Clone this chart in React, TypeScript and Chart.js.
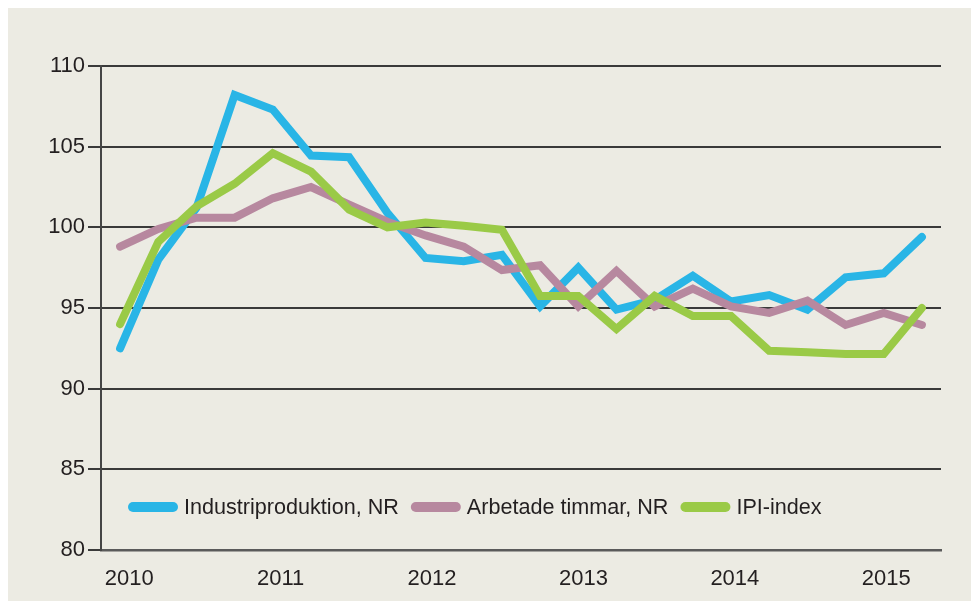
import { useEffect, useRef } from "react";
import { Chart, registerables } from "chart.js";

Chart.register(...registerables);

// ---- Data ----
const quarters = [
  "2010K1", "2010K2", "2010K3", "2010K4",
  "2011K1", "2011K2", "2011K3", "2011K4",
  "2012K1", "2012K2", "2012K3", "2012K4",
  "2013K1", "2013K2", "2013K3", "2013K4",
  "2014K1", "2014K2", "2014K3", "2014K4",
  "2015K1", "2015K2",
];
const yearLabels = ["2010", "2011", "2012", "2013", "2014", "2015"];

const industriproduktion = [
  92.5, 98.0, 101.2, 108.2, 107.3, 104.45, 104.35, 100.9,
  98.1, 97.9, 98.3, 95.1, 97.5, 94.9, 95.5, 97.0,
  95.4, 95.8, 94.9, 96.9, 97.15, 99.4,
];
const arbetadeTimmar = [
  98.8, 99.9, 100.6, 100.6, 101.8, 102.5, 101.4, 100.35,
  99.5, 98.8, 97.35, 97.65, 95.1, 97.3, 95.1, 96.2,
  95.1, 94.7, 95.45, 93.95, 94.7, 93.95,
];
const ipiIndex = [
  94.0, 99.1, 101.3, 102.7, 104.6, 103.45, 101.1, 100.0,
  100.3, 100.1, 99.85, 95.75, 95.75, 93.7, 95.75, 94.5,
  94.5, 92.35, 92.25, 92.15, 92.15, 95.0,
];
const seriesNames = ["Industriproduktion, NR", "Arbetade timmar, NR", "IPI-index"];
const yMin = 80;
const yMax = 110;
const yStep = 5;

// ---- Styles ----
const FONT = "'Liberation Sans', Arial, sans-serif";
const BG = "#ecebe3";
const TEXT = "#231f20";
const COLORS = ["#29b5e6", "#b7889f", "#9aca47"];

const legendPlugin = {
  id: "insideLegend",
  afterDatasetsDraw(chart: any) {
    const { ctx, chartArea } = chart;
    ctx.save();
    ctx.font = `21.6px ${FONT}`;
    ctx.textBaseline = "middle";
    ctx.textAlign = "left";
    const y = chartArea.bottom - 43;
    let x = chartArea.left + 32;
    chart.data.datasets.forEach((ds: any) => {
      ctx.strokeStyle = ds.borderColor;
      ctx.lineWidth = 10;
      ctx.lineCap = "round";
      ctx.beginPath();
      ctx.moveTo(x, y);
      ctx.lineTo(x + 40, y);
      ctx.stroke();
      const tx = x + 51;
      ctx.fillStyle = TEXT;
      ctx.fillText(ds.label, tx, y + 1);
      const w = ctx.measureText(ds.label).width;
      x = tx + w + 17;
    });
    ctx.restore();
  },
};

export default function App() {
  const ref = useRef<HTMLCanvasElement | null>(null);

  useEffect(() => {
    if (!ref.current) return;
    const series = [industriproduktion, arbetadeTimmar, ipiIndex];
    const orders = [2, 1, 0];
    const chart = new Chart(ref.current, {
      type: "line",
      data: {
        datasets: series.map((vals, i) => ({
          label: seriesNames[i],
          data: vals.map((v, j) => ({ x: j, y: v })),
          borderColor: COLORS[i],
          backgroundColor: COLORS[i],
          borderWidth: 8,
          borderCapStyle: "round" as const,
          borderJoinStyle: "miter" as const,
          pointRadius: 0,
          tension: 0,
          fill: false,
          order: orders[i],
        })),
      },
      options: {
        responsive: false,
        animation: false,
        layout: { padding: { top: 58, right: 38, left: 0, bottom: 0 } },
        plugins: {
          legend: { display: false },
          tooltip: { enabled: false },
        },
        scales: {
          x: {
            type: "linear",
            min: -0.5,
            max: quarters.length - 0.5,
            grid: { display: false, drawTicks: false },
            border: { display: true, color: "#5a5a5a", width: 2.5 },
            afterBuildTicks: (scale: any) => {
              scale.ticks = yearLabels.map((_, k) => ({ value: 0.24 + k * 4 * 0.9913 }));
            },
            afterFit: (scale: any) => {
              scale.height = 51;
            },
            ticks: {
              autoSkip: false,
              maxRotation: 0,
              padding: 16,
              color: TEXT,
              font: { family: FONT, size: 22 },
              callback: (_v: any, idx: number) => yearLabels[idx],
            },
          },
          y: {
            min: yMin,
            max: yMax,
            grid: {
              color: "#3a3a3a",
              lineWidth: 2,
              drawTicks: true,
              tickLength: 13,
            },
            border: { display: true, color: "#454545", width: 2 },
            afterFit: (scale: any) => {
              scale.width = 93;
            },
            ticks: {
              stepSize: yStep,
              padding: 3,
              color: TEXT,
              font: { family: FONT, size: 22 },
            },
          },
        },
      },
      plugins: [legendPlugin],
    });
    return () => chart.destroy();
  }, []);

  return (
    <div style={{ width: 971, height: 593, background: BG }}>
      <canvas ref={ref} width={971} height={593} style={{ display: "block" }} />
    </div>
  );
}
